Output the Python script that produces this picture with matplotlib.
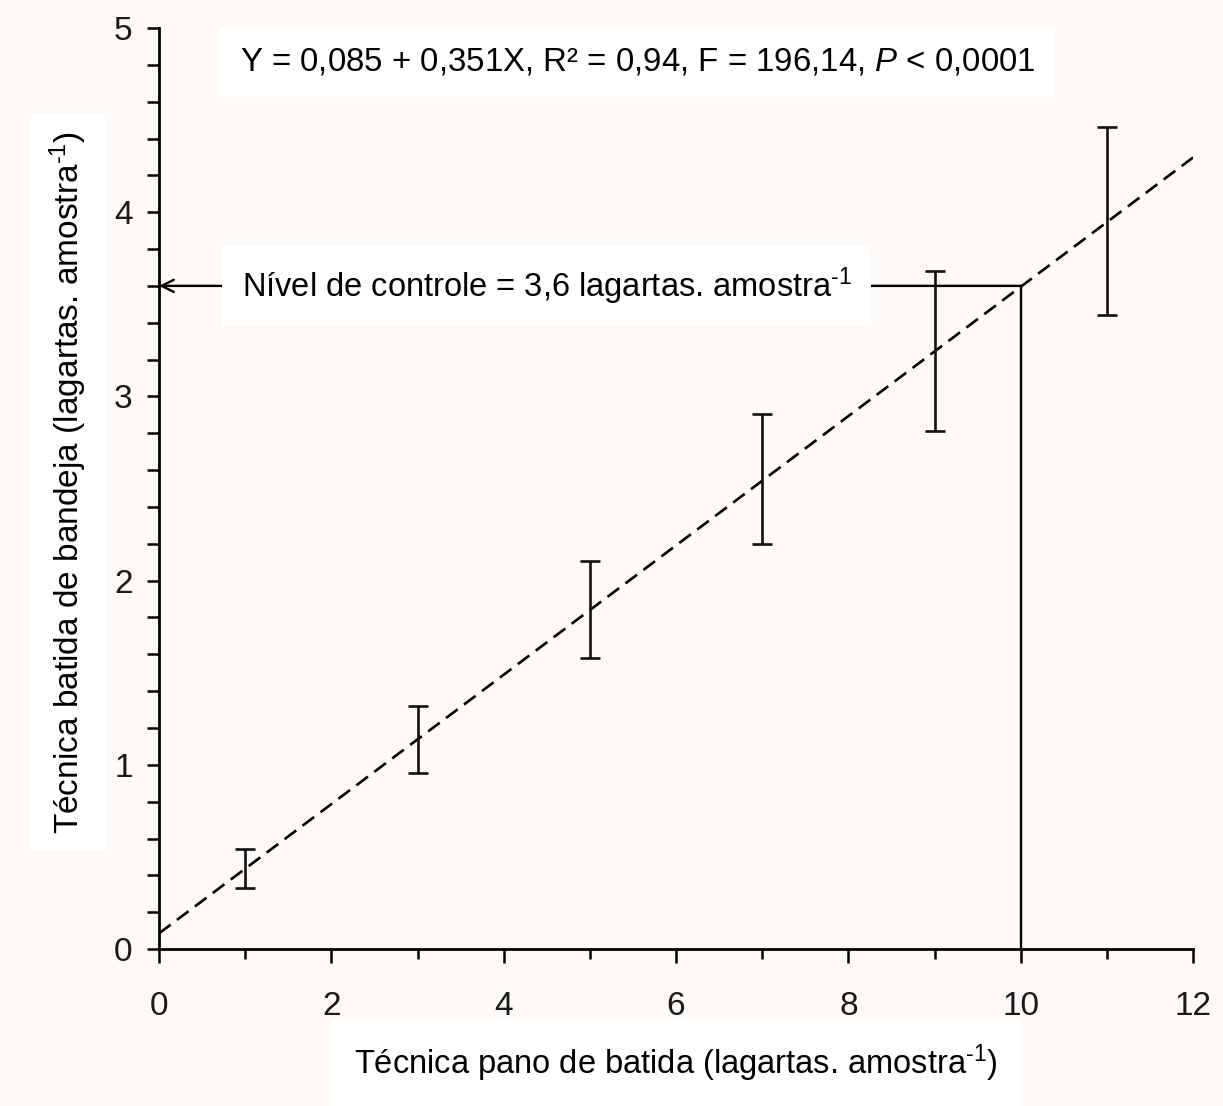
import numpy as np
import matplotlib
matplotlib.use('Agg')
import matplotlib.pyplot as plt
from matplotlib.ticker import MultipleLocator

plt.rcParams['font.family'] = ['Liberation Sans', 'DejaVu Sans']
plt.rcParams['mathtext.fontset'] = 'custom'
plt.rcParams['mathtext.rm'] = 'Liberation Sans'
plt.rcParams['mathtext.it'] = 'Liberation Sans:italic'

# data
x_pano = [1, 3, 5, 7, 9, 11]
y_bandeja = [0.437, 1.137, 1.843, 2.550, 3.247, 3.950]
y_err = [0.106, 0.182, 0.263, 0.352, 0.434, 0.510]
intercept, slope = 0.085, 0.351
control_level = 3.6
control_x = 10

sup = r'$^{\text{-1}}$'

bg = '#fdf9f7'
fig = plt.figure(figsize=(12.23, 11.06), dpi=100, facecolor=bg)
ax = fig.add_axes([0.130, 0.1419, 0.8455, 0.8328], facecolor=bg)

# regression line
xl = np.array([0, 12])
ax.plot(xl, intercept + slope * xl, color='black', lw=1.9, dashes=(5.5, 3), zorder=3)

# error bars (no markers)
ax.errorbar(x_pano, y_bandeja, yerr=y_err, fmt='none', ecolor='#111111',
            elinewidth=1.9, capsize=7.5, capthick=1.9, zorder=4)

# control level guide lines
ax.annotate('', xy=(0, control_level), xytext=(control_x, control_level),
            arrowprops=dict(arrowstyle='->', lw=1.7, color='black',
                            shrinkA=0, shrinkB=0, mutation_scale=22),
            zorder=2, annotation_clip=False)
ax.plot([control_x, control_x], [0, control_level], color='black', lw=1.7, zorder=2)

ax.text(0.96, control_level, 'Nível de controle = 3,6 lagartas. amostra' + sup,
        fontsize=23.5, ha='left', va='center', zorder=5,
        bbox=dict(facecolor='white', edgecolor='none', pad=14))
ax.text(0.94, 4.815, 'Y = 0,085 + 0,351X, R² = 0,94, F = 196,14, $P$ < 0,0001',
        fontsize=23.8, ha='left', va='center', zorder=5,
        bbox=dict(facecolor='white', edgecolor='none', pad=14))

ax.set_xlim(0, 12)
ax.set_ylim(0, 5)
ax.xaxis.set_major_locator(MultipleLocator(2))
ax.xaxis.set_minor_locator(MultipleLocator(1))
ax.yaxis.set_major_locator(MultipleLocator(1))
ax.yaxis.set_minor_locator(MultipleLocator(0.2))

for s in ['top', 'right']:
    ax.spines[s].set_visible(False)
for s in ['left', 'bottom']:
    ax.spines[s].set_linewidth(2.0)

ax.tick_params(axis='x', which='major', length=10, width=1.8, pad=20,
               labelsize=24, labelcolor='#1a1a1a')
ax.tick_params(axis='x', which='minor', length=7, width=1.8)
ax.tick_params(axis='y', which='both', length=9, width=1.8, pad=10,
               labelsize=24, labelcolor='#1a1a1a')

ax.set_xlabel('Técnica pano de batida (lagartas. amostra' + sup + ')', fontsize=23.5,
              bbox=dict(facecolor='white', edgecolor='none', pad=16))
ax.xaxis.set_label_coords(0.5, -0.124)
ax.xaxis.label.set_va('center')
ax.set_ylabel('Técnica batida de bandeja (lagartas. amostra' + sup + ')', fontsize=24,
              bbox=dict(facecolor='white', edgecolor='none', pad=12))
ax.yaxis.set_label_coords(-0.088, 0.507)
ax.yaxis.label.set_va('center')

fig.savefig('out.png', dpi=100, facecolor=bg)
